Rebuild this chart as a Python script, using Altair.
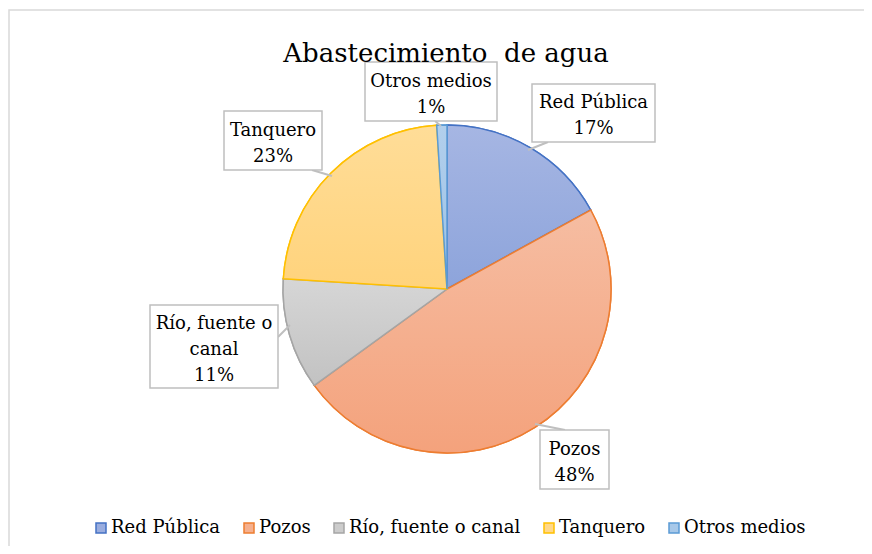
import altair as alt
import pandas as pd

# ---- data ----
categories = ["Red Pública", "Pozos", "Río, fuente o canal", "Tanquero", "Otros medios"]
values = [17, 48, 11, 23, 1]
label_names = ["Red Pública", "Pozos", "Río, fuente o\ncanal", "Tanquero", "Otros medios"]

# ---- styles ----
fill_top = ["#A6B6E3", "#F6BDA2", "#D6D6D6", "#FFDD98", "#B2CFEC"]
fill_bot = ["#8DA4DB", "#F4A27C", "#C2C2C2", "#FFD37C", "#9CC2E6"]
fill_mid = ["#9AADDF", "#F5B08F", "#CCCCCC", "#FFD88A", "#A7C8E9"]
edge = ["#4472C4", "#ED7D31", "#A5A5A5", "#FFC000", "#5B9BD5"]

W, H = 856, 538
CX, CY, R = 439, 281, 164
FONT = "DejaVu Serif"
LH = 26

# callout layout in chart pixels: box (x1, y1, x2, y2), pointer (from, to)
layout = {
    "Red Pública": ((524, 76, 647, 134), (540, 134), (520, 142)),
    "Pozos": ((532, 422, 601, 481), (557, 422), (527, 416)),
    "Río, fuente o canal": ((142, 297, 270, 380), (270, 329), (282, 317)),
    "Tanquero": ((216, 103, 314, 162), (304, 162), (324, 168)),
    "Otros medios": ((357, 54, 489, 113), (427, 113), (433, 118)),
}

df = pd.DataFrame({"cat": categories, "value": values, "idx": list(range(len(categories)))})

rows = []
for c, name, v in zip(categories, label_names, values):
    (x1, y1, x2, y2), p0, p1 = layout[c]
    txt = f"{name}\n{v}%"
    n = txt.count("\n") + 1
    rows.append({
        "cat": c, "txt": txt,
        "x1": x1, "y1": y1, "x2": x2, "y2": y2,
        "tx": (x1 + x2) / 2, "ty": (y1 + y2) / 2 + 3 - (n - 1) * LH / 2,
        "px": p0[0], "py": p0[1], "px2": p1[0], "py2": p1[1],
    })
lab = pd.DataFrame(rows)

def grad(a, b):
    return {"gradient": "linear", "x1": 0, "y1": 0, "x2": 0, "y2": 1,
            "stops": [{"offset": 0, "color": a}, {"offset": 1, "color": b}]}

conds = [{"test": f"datum.idx == {i}", "value": grad(fill_top[i], fill_bot[i])}
         for i in range(len(categories) - 1)]
last = len(categories) - 1

legend = alt.Legend(
    orient="none", legendX=84, legendY=511, direction="horizontal", title=None,
    symbolType="square", symbolSize=100, symbolStrokeWidth=1.5,
    labelFont=FONT, labelFontSize=18, labelColor="black", labelLimit=0,
    columnPadding=19, labelOffset=1,
)

border = alt.Chart(pd.DataFrame({"a": [0]})).mark_rect(
    fill="white", stroke="#D9D9D9", strokeWidth=1.5
).encode(x=alt.value(1), x2=alt.value(880), y=alt.value(2), y2=alt.value(600))

base = alt.Chart(df).encode(
    theta=alt.Theta("value:Q", stack=True),
    order=alt.Order("idx:Q"),
    x=alt.value(CX), y=alt.value(CY),
)

pie_a = base.mark_arc(outerRadius=R, strokeWidth=1.5).encode(
    fill=alt.Fill("cat:N", scale=alt.Scale(domain=categories, range=fill_mid), legend=legend),
    stroke=alt.Stroke("cat:N", scale=alt.Scale(domain=categories, range=edge), legend=legend),
)
pie_b = base.mark_arc(outerRadius=R, strokeWidth=1.5).encode(
    fill=alt.FillValue(value=grad(fill_top[last], fill_bot[last]), condition=conds),
    stroke=alt.Stroke("cat:N", scale=alt.Scale(domain=categories, range=edge), legend=legend),
)

lb = alt.Chart(lab)
pointers = lb.mark_rule(stroke="#BFBFBF", strokeWidth=2).encode(
    x=alt.X("px:Q", scale=None), y=alt.Y("py:Q", scale=None),
    x2="px2:Q", y2="py2:Q",
)
boxes = lb.mark_rect(fill="white", stroke="#BFBFBF", strokeWidth=1.5).encode(
    x=alt.X("x1:Q", scale=None), y=alt.Y("y1:Q", scale=None),
    x2="x2:Q", y2="y2:Q",
)
texts = lb.mark_text(font=FONT, fontSize=18, color="black", lineBreak="\n",
                     lineHeight=LH, align="center", baseline="middle").encode(
    x=alt.X("tx:Q", scale=None), y=alt.Y("ty:Q", scale=None), text="txt:N",
)

title = alt.Chart(pd.DataFrame({"t": ["Abastecimiento\u00a0 de agua"]})).mark_text(
    font=FONT, fontSize=26, color="black", align="center", baseline="alphabetic"
).encode(x=alt.value(438), y=alt.value(54), text="t:N")

chart = alt.layer(border, pie_a, pie_b, pointers, boxes, texts, title).properties(
    width=W, height=H, padding=0, autosize=alt.AutoSizeParams(type="none"),
    background="white",
).configure_view(stroke=None)

chart.save("out.html", embed_options={"renderer": "svg", "actions": False})
